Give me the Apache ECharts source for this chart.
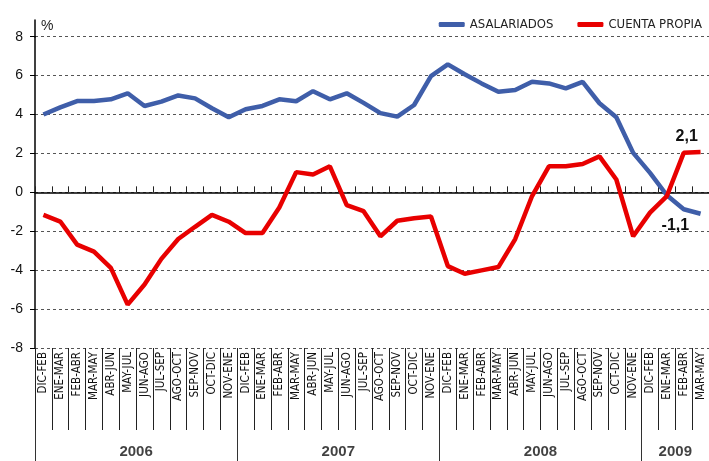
<!DOCTYPE html>
<html><head><meta charset="utf-8">
<script src="https://cdn.jsdelivr.net/npm/echarts@6/dist/echarts.min.js"></script>
<style>html,body{margin:0;padding:0;background:#fff}#c{width:709px;height:461px}</style>
</head><body><div id="c"></div>
<script>
const months = ['DIC-FEB','ENE-MAR','FEB-ABR','MAR-MAY','ABR-JUN','MAY-JUL','JUN-AGO','JUL-SEP','AGO-OCT','SEP-NOV','OCT-DIC','NOV-ENE'];
const categories = [].concat(months, months, months, months.slice(0,4));
const years = ['2006','2007','2008','2009'];
const yearCounts = [12,12,12,4];
const asalariados = [4.0,4.37,4.69,4.7,4.78,5.09,4.44,4.66,4.98,4.83,4.32,3.86,
  4.27,4.44,4.78,4.68,5.2,4.78,5.09,4.6,4.07,3.89,4.49,5.97,
  6.58,6.07,5.6,5.17,5.26,5.68,5.6,5.34,5.68,4.58,3.86,2.03,
  1.0,-0.15,-0.87,-1.1];
const cuentaPropia = [-1.16,-1.5,-2.69,-3.05,-3.88,-5.77,-4.74,-3.42,-2.4,-1.77,-1.16,-1.51,
  -2.09,-2.09,-0.78,1.04,0.92,1.34,-0.66,-0.97,-2.26,-1.46,-1.33,-1.24,
  -3.79,-4.18,-4.01,-3.84,-2.4,-0.19,1.34,1.34,1.46,1.85,0.66,-2.26,
  -1.04,-0.19,2.03,2.08];
const yTicks = {min:-8, max:8, interval:2};

const fmt = v => (Array.isArray(v) ? v[v.length-1] : v).toFixed(1).replace('.', ',');
let acc = 0; const yearData = [];
yearCounts.forEach((n,i)=>{ yearData.push({value:[acc+n/2, 0.08], name:years[i]}); acc += n; });

const narrow = "'Liberation Sans Narrow','DejaVu Sans Condensed','Liberation Sans',sans-serif";
const sans = "'Liberation Sans',Arial,sans-serif";
const chart = echarts.init(document.getElementById('c'));
chart.setOption({
  animation:false,
  legend:{
    top:13, right:2, itemGap:24, itemWidth:26, itemHeight:5, icon:'roundRect',
    textStyle:{fontFamily:narrow, fontSize:13, color:'#222'},
    data:['ASALARIADOS','CUENTA PROPIA']
  },
  grid:[
    {left:35, right:0, top:36.7, bottom:113},
    {left:35, right:0, top:348, bottom:0},
    {left:35, right:0, top:20, height:17}
  ],
  xAxis:[
    {type:'category', gridIndex:0, data:categories, boundaryGap:true, position:'bottom',
     axisLine:{show:false, onZero:false},
     axisTick:{show:true, interval:0, length:82, lineStyle:{color:'#222', width:1}},
     axisLabel:{interval:0, rotate:90, margin:4, fontFamily:narrow, fontSize:11.5, color:'#111'}},
    {type:'category', gridIndex:0, data:categories, boundaryGap:true,
     axisLine:{show:true, onZero:true, lineStyle:{color:'#000', width:1.5}},
     axisTick:{show:true, interval:0, length:6, lineStyle:{color:'#222'}},
     axisLabel:{show:false}},
    {type:'value', gridIndex:1, min:0, max:categories.length, interval:12,
     axisLine:{show:false}, axisTick:{show:false}, axisLabel:{show:false},
     splitLine:{show:true, lineStyle:{color:'#333', width:1, type:'solid'}}},
    {type:'value', gridIndex:2, min:0, max:1, show:false}
  ],
  yAxis:[
    {type:'value', gridIndex:0, min:yTicks.min, max:yTicks.max, interval:yTicks.interval,
     name:'%', nameLocation:'end', nameGap:4,
     nameTextStyle:{align:'left', padding:[0,0,0,6], fontFamily:sans, fontSize:14, color:'#222'},
     axisLine:{show:true, lineStyle:{color:'#000', width:1.5}},
     axisTick:{show:true, length:5, lineStyle:{color:'#000'}},
     axisLabel:{margin:12, fontFamily:sans, fontSize:14, color:'#111'},
     splitLine:{show:true, lineStyle:{color:'#555', type:[3,3], width:1}}},
    {type:'value', gridIndex:1, min:0, max:1, show:false},
    {type:'value', gridIndex:2, min:0, max:1, axisLine:{show:true, lineStyle:{color:'#000', width:1.5}},
     axisTick:{show:false}, axisLabel:{show:false}, splitLine:{show:false}}
  ],
  series:[
    {name:'ASALARIADOS', type:'line', xAxisIndex:0, yAxisIndex:0, symbol:'none',
     lineStyle:{color:'#3F5EA9', width:4.5}, itemStyle:{color:'#3F5EA9'},
     endLabel:{show:true, formatter:p=>fmt(p.value), distance:0, align:'left', verticalAlign:'middle', offset:[-39,12],
       fontFamily:sans, fontWeight:'bold', fontSize:16, color:'#111'},
     data:asalariados},
    {name:'CUENTA PROPIA', type:'line', xAxisIndex:0, yAxisIndex:0, symbol:'none',
     lineStyle:{color:'#E80000', width:4.5}, itemStyle:{color:'#E80000'},
     endLabel:{show:true, formatter:p=>fmt(p.value), distance:0, align:'left', verticalAlign:'middle', offset:[-25,-15],
       fontFamily:sans, fontWeight:'bold', fontSize:16, color:'#111'},
     data:cuentaPropia},
    {name:'years', type:'scatter', xAxisIndex:2, yAxisIndex:1, symbolSize:0, silent:true,
     data:yearData,
     label:{show:true, position:'inside', formatter:p=>p.name, fontFamily:sans, fontWeight:'bold', fontSize:15, color:'#111'}}
  ]
});
</script></body></html>
